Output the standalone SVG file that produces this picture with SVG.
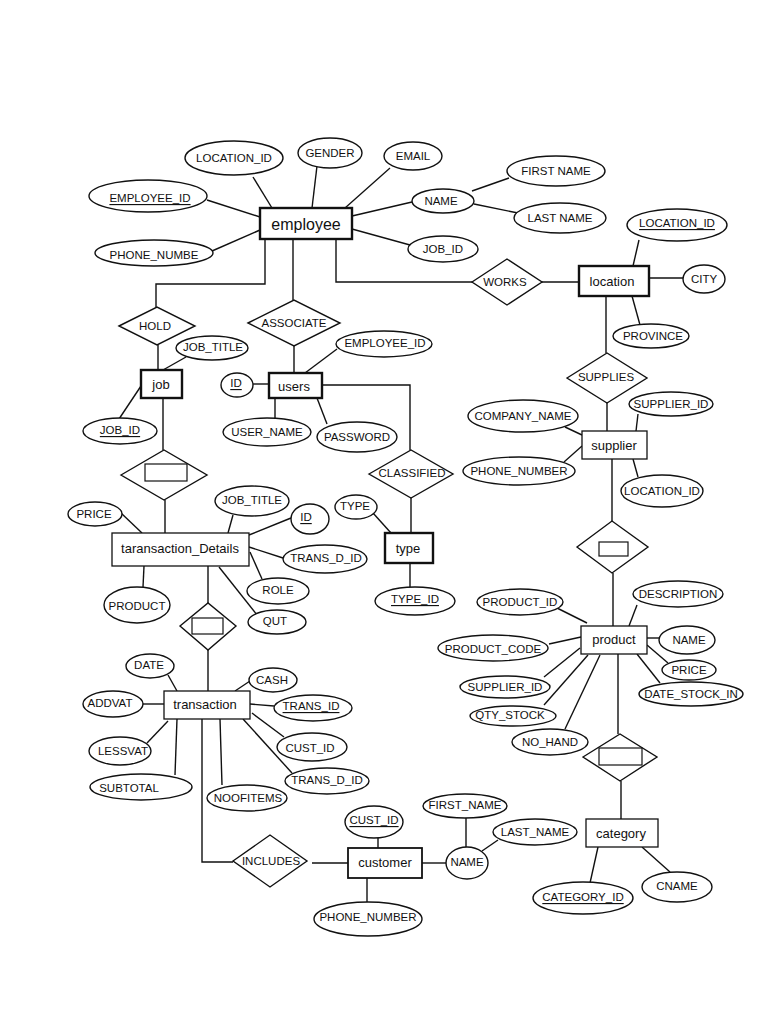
<svg xmlns="http://www.w3.org/2000/svg" width="768" height="1024" viewBox="0 0 768 1024">
<style>
.bg{fill:#fff}
.c line,.c polyline{stroke:#111;stroke-width:1.4;fill:none}
ellipse,.d{fill:#fff;stroke:#111;stroke-width:1.4}
.e{fill:#fff;stroke:#111;stroke-width:1.3}
.E{fill:#fff;stroke:#111;stroke-width:2.4}
.ir{fill:#fff;stroke:#111;stroke-width:1.2}
text{font-family:"Liberation Sans",Arial,sans-serif;font-size:11.5px;fill:#111;text-anchor:middle;dominant-baseline:central}
.t{font-size:13px}
.u{text-decoration:underline}
</style>
<rect class="bg" width="768" height="1024"/>
<g class="c" id="connectors">
<line x1="253" y1="177" x2="272" y2="208"/>
<line x1="317" y1="166" x2="312" y2="208"/>
<line x1="345" y1="208" x2="390" y2="168"/>
<line x1="352" y1="216" x2="412" y2="202"/>
<line x1="352" y1="229" x2="410" y2="245"/>
<line x1="472" y1="191" x2="509" y2="178"/>
<line x1="474" y1="204" x2="518" y2="213"/>
<line x1="207" y1="200" x2="260" y2="217"/>
<line x1="212" y1="251" x2="260" y2="230"/>
<polyline points="265,239 265,284 156,284 156,307"/>
<line x1="293" y1="239" x2="293" y2="300"/>
<polyline points="336,239 336,282 472,282"/>
<line x1="542" y1="282" x2="579" y2="282"/>
<line x1="633" y1="266" x2="639" y2="240"/>
<line x1="649" y1="278" x2="684" y2="278"/>
<line x1="632" y1="296" x2="640" y2="325"/>
<line x1="606" y1="296" x2="606" y2="353"/>
<line x1="607" y1="403" x2="607" y2="431"/>
<line x1="565" y1="427" x2="582" y2="435"/>
<line x1="564" y1="462" x2="582" y2="446"/>
<line x1="638" y1="414" x2="636" y2="431"/>
<line x1="633" y1="459" x2="638" y2="477"/>
<line x1="612" y1="459" x2="612" y2="521"/>
<line x1="613" y1="573" x2="613" y2="626"/>
<line x1="629" y1="626" x2="637" y2="605"/>
<line x1="557" y1="608" x2="587" y2="623"/>
<line x1="549" y1="644" x2="581" y2="637"/>
<line x1="544" y1="677" x2="580" y2="648"/>
<line x1="544" y1="705" x2="588" y2="655"/>
<line x1="565" y1="729" x2="600" y2="655"/>
<line x1="647" y1="638" x2="659" y2="638"/>
<line x1="647" y1="645" x2="668" y2="663"/>
<line x1="637" y1="654" x2="660" y2="683"/>
<line x1="618" y1="654" x2="618" y2="734"/>
<line x1="621" y1="781" x2="621" y2="819"/>
<line x1="598" y1="847" x2="590" y2="883"/>
<line x1="642" y1="847" x2="670" y2="872"/>
<line x1="158" y1="345" x2="158" y2="370"/>
<line x1="163" y1="370" x2="186" y2="357"/>
<line x1="119" y1="419" x2="141" y2="386"/>
<line x1="163" y1="398" x2="163" y2="450"/>
<line x1="165" y1="500" x2="165" y2="533"/>
<line x1="294" y1="346" x2="294" y2="373"/>
<line x1="253" y1="384" x2="269" y2="384"/>
<line x1="275" y1="398" x2="275" y2="418"/>
<line x1="317" y1="398" x2="327" y2="424"/>
<line x1="305" y1="373" x2="337" y2="349"/>
<polyline points="322,385 410,385 410,450"/>
<line x1="411" y1="498" x2="411" y2="533"/>
<line x1="373" y1="513" x2="391" y2="533"/>
<line x1="410" y1="563" x2="410" y2="587"/>
<line x1="121" y1="513" x2="142" y2="533"/>
<line x1="144" y1="566" x2="143" y2="587"/>
<line x1="233" y1="515" x2="228" y2="533"/>
<line x1="249" y1="535" x2="291" y2="518"/>
<line x1="249" y1="547" x2="283" y2="558"/>
<line x1="250" y1="552" x2="262" y2="579"/>
<line x1="219" y1="567" x2="257" y2="615"/>
<line x1="208" y1="566" x2="208" y2="603"/>
<line x1="208" y1="650" x2="208" y2="691"/>
<line x1="168" y1="675" x2="177" y2="691"/>
<line x1="142" y1="704" x2="164" y2="704"/>
<line x1="147" y1="743" x2="168" y2="721"/>
<line x1="175" y1="775" x2="177" y2="719"/>
<line x1="222" y1="785" x2="220" y2="719"/>
<line x1="235" y1="691" x2="253" y2="679"/>
<line x1="250" y1="704" x2="274" y2="706"/>
<line x1="252" y1="713" x2="284" y2="737"/>
<line x1="243" y1="719" x2="292" y2="773"/>
<polyline points="202,719 202,862 233,862"/>
<line x1="312" y1="863" x2="348" y2="863"/>
<line x1="378" y1="838" x2="378" y2="848"/>
<line x1="367" y1="878" x2="367" y2="902"/>
<line x1="422" y1="863" x2="446" y2="863"/>
<line x1="466" y1="818" x2="466" y2="847"/>
<line x1="482" y1="851" x2="498" y2="840"/>
</g>

<g id="employee"><rect class="E" x="260" y="208" width="92" height="31"/><text x="306" y="224" style="font-size:16px">employee</text></g>
<g id="emp_location_id"><ellipse cx="234" cy="158" rx="49" ry="17"/><text x="234" y="158">LOCATION_ID</text></g>
<g id="emp_gender"><ellipse cx="330" cy="153" rx="32" ry="15"/><text x="330" y="153">GENDER</text></g>
<g id="emp_email"><ellipse cx="413" cy="156" rx="29" ry="14"/><text x="413" y="156">EMAIL</text></g>
<g id="emp_name"><ellipse cx="443" cy="201" rx="31" ry="12"/><text x="441" y="201">NAME</text></g>
<g id="emp_first_name"><ellipse cx="556" cy="171" rx="49" ry="15"/><text x="556" y="171">FIRST  NAME</text></g>
<g id="emp_last_name"><ellipse cx="560" cy="218" rx="46" ry="15"/><text x="560" y="218">LAST  NAME</text></g>
<g id="emp_job_id"><ellipse cx="443" cy="249" rx="35" ry="13"/><text x="443" y="249">JOB_ID</text></g>
<g id="emp_employee_id"><ellipse cx="148" cy="196" rx="59" ry="16"/><text class="u" x="150" y="198">EMPLOYEE_ID</text></g>
<g id="emp_phone"><ellipse cx="154" cy="253" rx="59" ry="13"/><text x="154" y="255">PHONE_NUMBE</text></g>

<g id="works"><polygon class="d" points="472,282 507,259 542,282 507,305"/><text x="505" y="282">WORKS</text></g>
<g id="location"><rect class="E" x="579" y="266" width="70" height="30"/><text class="t" x="612" y="281">location</text></g>
<g id="loc_location_id"><ellipse cx="677" cy="225" rx="50" ry="16"/><text class="u" x="677" y="223">LOCATION_ID</text></g>
<g id="loc_city"><ellipse cx="704" cy="279" rx="21" ry="14"/><text x="704" y="279">CITY</text></g>
<g id="loc_province"><ellipse cx="651" cy="336" rx="38" ry="12"/><text x="653" y="336">PROVINCE</text></g>

<g id="supplies"><polygon class="d" points="567,378 607,353 647,378 607,403"/><text x="606" y="377">SUPPLIES</text></g>
<g id="supplier"><rect class="e" x="582" y="431" width="65" height="28"/><text class="t" x="614" y="445">supplier</text></g>
<g id="sup_company_name"><ellipse cx="523" cy="416" rx="55" ry="16"/><text x="523" y="416">COMPANY_NAME</text></g>
<g id="sup_phone_number"><ellipse cx="519" cy="471" rx="56" ry="14"/><text x="519" y="471">PHONE_NUMBER</text></g>
<g id="sup_supplier_id"><ellipse cx="671" cy="404" rx="42" ry="12"/><text x="671" y="404">SUPPLIER_ID</text></g>
<g id="sup_location_id"><ellipse cx="662" cy="491" rx="41" ry="16"/><text x="662" y="491">LOCATION_ID</text></g>

<g id="supplier_product_rel"><polygon class="d" points="577,547 612,521 648,547 612,573"/><rect class="ir" x="599" y="542" width="29" height="14"/></g>
<g id="product"><rect class="e" x="581" y="626" width="66" height="28"/><text class="t" x="614" y="639">product</text></g>
<g id="prod_description"><ellipse cx="678" cy="594" rx="45" ry="13"/><text x="678" y="594">DESCRIPTION</text></g>
<g id="prod_product_id"><ellipse cx="520" cy="602" rx="43" ry="13"/><text x="520" y="602">PRODUCT_ID</text></g>
<g id="prod_product_code"><ellipse cx="493" cy="648" rx="55" ry="13"/><text x="493" y="649">PRODUCT_CODE</text></g>
<g id="prod_supplier_id"><ellipse cx="505" cy="687" rx="45" ry="11"/><text x="505" y="687">SUPPLIER_ID</text></g>
<g id="prod_qty_stock"><ellipse cx="513" cy="716" rx="43" ry="10"/><text x="510" y="715">QTY_STOCK</text></g>
<g id="prod_no_hand"><ellipse cx="550" cy="742" rx="38" ry="13"/><text x="550" y="742">NO_HAND</text></g>
<g id="prod_name"><ellipse cx="687" cy="640" rx="28" ry="14"/><text x="689" y="640">NAME</text></g>
<g id="prod_price"><ellipse cx="689" cy="670" rx="27" ry="10"/><text x="689" y="670">PRICE</text></g>
<g id="prod_date_stock_in"><ellipse cx="691" cy="694" rx="52" ry="12"/><text x="691" y="694">DATE_STOCK_IN</text></g>

<g id="product_category_rel"><polygon class="d" points="583,757 620,734 657,757 620,781"/><rect class="ir" x="599" y="748" width="43" height="17"/></g>
<g id="category"><rect class="e" x="586" y="819" width="72" height="28"/><text class="t" x="621" y="833">category</text></g>
<g id="cat_category_id"><ellipse cx="583" cy="898" rx="50" ry="16"/><text class="u" x="583" y="897">CATEGORY_ID</text></g>
<g id="cat_cname"><ellipse cx="677" cy="887" rx="35" ry="15"/><text x="677" y="886">CNAME</text></g>

<g id="hold"><polygon class="d" points="119,326 157,307 195,326 157,345"/><text x="155" y="326">HOLD</text></g>
<g id="job"><rect class="E" x="141" y="370" width="41" height="28"/><text class="t" x="161" y="384">job</text></g>
<g id="job_job_title"><ellipse cx="212" cy="348" rx="36" ry="12"/><text x="213" y="347">JOB_TITLE</text></g>
<g id="job_job_id"><ellipse cx="120" cy="431" rx="37" ry="13"/><text class="u" x="120" y="430">JOB_ID</text></g>
<g id="job_details_rel"><polygon class="d" points="121,475 164,450 207,475 164,500"/><rect class="ir" x="145" y="464" width="42" height="17"/></g>

<g id="associate"><polygon class="d" points="248,323 294,300 340,323 294,346"/><text x="294" y="323">ASSOCIATE</text></g>
<g id="users"><rect class="E" x="269" y="373" width="53" height="25"/><text class="t" x="294" y="386">users</text></g>
<g id="users_id"><ellipse cx="237" cy="385" rx="16" ry="12"/><text class="u" x="236" y="383">ID</text></g>
<g id="users_user_name"><ellipse cx="267" cy="432" rx="44" ry="14"/><text x="267" y="432">USER_NAME</text></g>
<g id="users_password"><ellipse cx="357" cy="437" rx="40" ry="15"/><text x="357" y="437">PASSWORD</text></g>
<g id="users_employee_id"><ellipse cx="384" cy="344" rx="48" ry="13"/><text x="385" y="343">EMPLOYEE_ID</text></g>

<g id="classified"><polygon class="d" points="369,474 411,450 453,474 411,498"/><text x="412" y="473">CLASSIFIED</text></g>
<g id="type"><rect class="E" x="385" y="533" width="48" height="30"/><text class="t" x="408" y="548">type</text></g>
<g id="type_type"><ellipse cx="356" cy="507" rx="21" ry="12"/><text x="355" y="506">TYPE</text></g>
<g id="type_type_id"><ellipse cx="415" cy="601" rx="40" ry="14"/><text class="u" x="415" y="599">TYPE_ID</text></g>

<g id="taransaction_details"><rect class="e" x="112" y="533" width="137" height="33"/><text class="t" x="180" y="548">taransaction_Details</text></g>
<g id="td_price"><ellipse cx="95" cy="514" rx="27" ry="12"/><text x="94" y="514">PRICE</text></g>
<g id="td_product"><ellipse cx="137" cy="605" rx="33" ry="18"/><text x="137" y="606">PRODUCT</text></g>
<g id="td_job_title"><ellipse cx="252" cy="501" rx="37" ry="15"/><text x="252" y="500">JOB_TITLE</text></g>
<g id="td_id"><ellipse cx="310" cy="519" rx="19" ry="15"/><text class="u" x="306" y="517">ID</text></g>
<g id="td_trans_d_id"><ellipse cx="325" cy="559" rx="42" ry="14"/><text x="326" y="558">TRANS_D_ID</text></g>
<g id="td_role"><ellipse cx="278" cy="591" rx="31" ry="13"/><text x="278" y="590">ROLE</text></g>
<g id="td_qut"><ellipse cx="277" cy="622" rx="29" ry="12"/><text x="275" y="621">QUT</text></g>
<g id="details_transaction_rel"><polygon class="d" points="180,626 208,603 236,626 208,650"/><rect class="ir" x="192" y="618" width="31" height="16"/></g>

<g id="transaction"><rect class="e" x="164" y="691" width="86" height="28"/><text class="t" x="205" y="704">transaction</text></g>
<g id="tr_date"><ellipse cx="150" cy="666" rx="24" ry="12"/><text x="149" y="665">DATE</text></g>
<g id="tr_addvat"><ellipse cx="113" cy="704" rx="30" ry="13"/><text x="110" y="703">ADDVAT</text></g>
<g id="tr_lessvat"><ellipse cx="120" cy="751" rx="31" ry="14"/><text x="123" y="751">LESSVAT</text></g>
<g id="tr_subtotal"><ellipse cx="141" cy="787" rx="51" ry="13"/><text x="129" y="788">SUBTOTAL</text></g>
<g id="tr_noofitems"><ellipse cx="247" cy="798" rx="40" ry="13"/><text x="248" y="798">NOOFITEMS</text></g>
<g id="tr_cash"><ellipse cx="273" cy="680" rx="24" ry="12"/><text x="272" y="680">CASH</text></g>
<g id="tr_trans_id"><ellipse cx="313" cy="708" rx="39" ry="13"/><text class="u" x="311" y="706">TRANS_ID</text></g>
<g id="tr_cust_id"><ellipse cx="312" cy="747" rx="35" ry="14"/><text x="310" y="748">CUST_ID</text></g>
<g id="tr_trans_d_id"><ellipse cx="327" cy="781" rx="42" ry="13"/><text x="327" y="780">TRANS_D_ID</text></g>

<g id="includes"><polygon class="d" points="233,861 270,835 307,861 270,887"/><text x="271" y="861">INCLUDES</text></g>
<g id="customer"><rect class="E" x="348" y="848" width="74" height="30" style="stroke-width:1.8"/><text class="t" x="385" y="862">customer</text></g>
<g id="cust_cust_id"><ellipse cx="374" cy="822" rx="29" ry="16"/><text class="u" x="374" y="820">CUST_ID</text></g>
<g id="cust_phone_number"><ellipse cx="368" cy="919" rx="54" ry="17"/><text x="368" y="917">PHONE_NUMBER</text></g>
<g id="cust_name"><ellipse cx="467" cy="863" rx="21" ry="16"/><text x="467" y="862">NAME</text></g>
<g id="cust_first_name"><ellipse cx="465" cy="806" rx="42" ry="12"/><text x="465" y="805">FIRST_NAME</text></g>
<g id="cust_last_name"><ellipse cx="535" cy="832" rx="42" ry="13"/><text x="535" y="832">LAST_NAME</text></g>
</svg>
